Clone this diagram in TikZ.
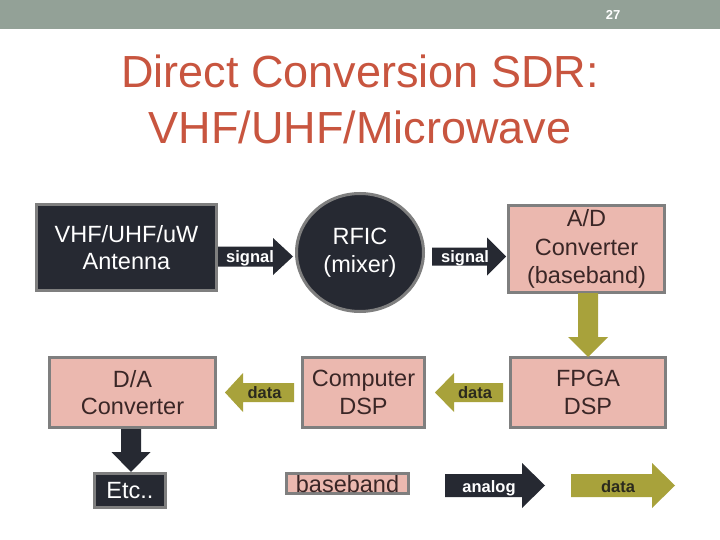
\documentclass[tikz,border=0pt]{standalone}
\usepackage{fontspec}
\setmainfont{Liberation Sans}
\usetikzlibrary{shapes.geometric}
\definecolor{hdr}{HTML}{93A197}
\definecolor{ttl}{HTML}{C8553F}
\definecolor{dk}{HTML}{262932}
\definecolor{pk}{HTML}{EBB8AF}
\definecolor{bd}{HTML}{7F7F7F}
\definecolor{ol}{HTML}{A8A23B}
\definecolor{pktxt}{HTML}{3A2626}
\definecolor{oltxt}{HTML}{2B2A1E}
% horizontal block arrow: color, tail x, base x, tip x, y, shaft half, head half
\newcommand{\hblkarrow}[7]{%
 \fill[#1] (#2,#5-#6) -- (#3,#5-#6) -- (#3,#5-#7) -- (#4,#5) -- (#3,#5+#7) -- (#3,#5+#6) -- (#2,#5+#6) -- cycle;}
% vertical block arrow: color, tail y, base y, tip y, x, shaft half, head half
\newcommand{\vblkarrow}[7]{%
 \fill[#1] (#5-#6,#2) -- (#5-#6,#3) -- (#5-#7,#3) -- (#5,#4) -- (#5+#7,#3) -- (#5+#6,#3) -- (#5+#6,#2) -- cycle;}
\begin{document}
\begin{tikzpicture}[x=1pt,y=-1pt,
  boxtext/.style={font=\fontsize{23.5}{27.5}\selectfont, align=center},
  darkbox/.style={boxtext, rectangle, draw=bd, line width=3pt, fill=dk, text=white, inner sep=0pt},
  pinkbox/.style={boxtext, rectangle, draw=bd, line width=3pt, fill=pk, text=pktxt, inner sep=0pt},
  arrlabel/.style={font=\fontsize{16.5}{20}\selectfont\bfseries, inner sep=0pt, anchor=base}]
\useasboundingbox (0,0) rectangle (720,540);
\fill[white] (0,0) rectangle (720,540);
% header
\fill[hdr] (0,0) rectangle (720,29);
\node[text=white, font=\fontsize{13}{15}\selectfont\bfseries, inner sep=0pt] (pg) at (613,15) {27};
% title
\node[text=ttl, font=\fontsize{45}{54}\selectfont, anchor=base, inner sep=0pt] (t1) at (360,88) {Direct Conversion SDR:};
\node[text=ttl, font=\fontsize{45}{54}\selectfont, anchor=base, inner sep=0pt] (t2) at (360,144) {VHF/UHF/Microwave};
% boxes
\node[darkbox, minimum width=180pt, minimum height=86pt] (ant) at (126.5,247.5) {VHF/UHF/uW\\Antenna};
\node[darkbox, ellipse, minimum width=127pt, minimum height=118pt] (rfic) at (360,252.5) {RFIC\\(mixer)};
\node[pinkbox, font=\fontsize{23.5}{28.5}\selectfont, minimum width=156pt, minimum height=87pt] (adc) at (586.5,249) {A/D\\Converter\\(baseband)};
\node[pinkbox, minimum width=155pt, minimum height=70pt] (fpga) at (588,392.5) {FPGA\\DSP};
\node[pinkbox, minimum width=122pt, minimum height=70pt] (comp) at (363.5,392.5) {Computer\\DSP};
\node[pinkbox, minimum width=166pt, minimum height=70pt] (dac) at (132.5,392.5) {D/A\\Converter};
\node[darkbox, minimum width=71pt, minimum height=34pt] (etc) at (130,490.5) {Etc..};
\node[pinkbox, line width=2.5pt, minimum width=122pt, minimum height=20pt, text height=17pt, text depth=0pt] (bb) at (347.5,483.5) {baseband};
% block arrows
\hblkarrow{dk}{218}{273}{293}{256.5}{10}{18.5}
\node[arrlabel, text=white] (s1) at (250,262) {signal};
\hblkarrow{dk}{432}{487}{506}{256.5}{9}{19}
\node[arrlabel, text=white] (s2) at (465,262) {signal};
\vblkarrow{ol}{293}{337}{357}{588}{10}{20}
\hblkarrow{ol}{503}{454}{435}{392.5}{9.5}{19.5}
\node[arrlabel, text=oltxt] (d1) at (475,398) {data};
\hblkarrow{ol}{294}{243}{225}{392.5}{9.5}{19.5}
\node[arrlabel, text=oltxt] (d2) at (264.5,398) {data};
\vblkarrow{dk}{429}{452}{472}{131}{10}{19.5}
\hblkarrow{dk}{445}{522}{545}{485.5}{11.5}{22.5}
\node[arrlabel, text=white] (an) at (489,492) {analog};
\hblkarrow{ol}{571}{652}{675}{485.5}{11.5}{22.5}
\node[arrlabel, text=oltxt] (d3) at (618,492) {data};
\end{tikzpicture}
\end{document}
